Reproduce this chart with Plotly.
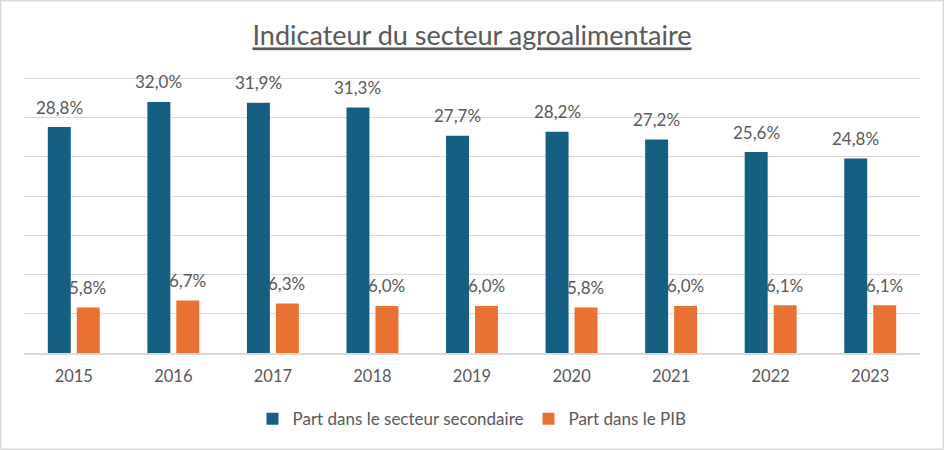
import plotly.graph_objects as go

years = ["2015", "2016", "2017", "2018", "2019", "2020", "2021", "2022", "2023"]
part_secondaire = [28.8, 32.0, 31.9, 31.3, 27.7, 28.2, 27.2, 25.6, 24.8]
part_pib = [5.8, 6.7, 6.3, 6.0, 6.0, 5.8, 6.0, 6.1, 6.1]
series_names = ["Part dans le secteur secondaire", "Part dans le PIB"]
title_text = "Indicateur du secteur agroalimentaire"

BLUE = "#156082"
ORANGE = "#E97132"
TXT = "#595959"
GRID = "#D9D9D9"
FONT = "Lato, Carlito, Calibri, sans-serif"

W, H = 944, 450
ML, MR, MT, MB = 24, 24, 76, 97
PW, PH = W - ML - MR, H - MT - MB

fig = go.Figure()
fig.add_trace(go.Bar(x=years, y=part_secondaire, name=series_names[0],
                     marker=dict(color=BLUE, line=dict(width=0))))
fig.add_trace(go.Bar(x=years, y=part_pib, name=series_names[1],
                     marker=dict(color=ORANGE, line=dict(width=0))))

def fmt(v):
    return f"{v:.1f}".replace(".", ",") + "%"

annotations = []
for i, v in enumerate(part_secondaire):
    annotations.append(dict(x=i, y=v, xref="x", yref="y", text=fmt(v), showarrow=False,
                            xshift=-14.5, yshift=20, yanchor="middle",
                            font=dict(family=FONT, size=17, color=TXT)))
for i, v in enumerate(part_pib):
    annotations.append(dict(x=i, y=v, xref="x", yref="y", text=fmt(v), showarrow=False,
                            xshift=14, yshift=20, yanchor="middle",
                            font=dict(family=FONT, size=17, color=TXT)))

fig.update_layout(
    width=W, height=H,
    margin=dict(l=ML, r=MR, t=MT, b=MB, pad=0),
    paper_bgcolor="white", plot_bgcolor="white",
    barmode="group", bargap=0.418, bargroupgap=0.207,
    font=dict(family=FONT, color=TXT, size=16),
    title=dict(text="<u>" + title_text + "</u>", x=0.5, xanchor="center",
               y=1 - 36 / H, yanchor="middle",
               font=dict(family=FONT, size=27, color=TXT)),
    xaxis=dict(type="category", range=[-0.5, len(years) - 0.5], showgrid=False,
               showline=True, linecolor=GRID, linewidth=1.5,
               ticks="", tickfont=dict(family=FONT, size=16.5, color=TXT),
               ticklabelstandoff=7),
    yaxis=dict(range=[0, 35.3], dtick=5, showgrid=True, gridcolor=GRID, gridwidth=1,
               showticklabels=False, zeroline=False, showline=False, ticks=""),
    legend=dict(orientation="h", x=0.5, xanchor="center", y=(352.7 - 419) / PH,
                yanchor="middle", font=dict(family=FONT, size=17, color=TXT),
                itemwidth=30),
    annotations=annotations,
    shapes=[dict(type="rect", xref="paper", yref="paper",
                 x0=(-ML + 0.75) / PW, x1=1 + (MR - 0.75) / PW,
                 y0=(-MB + 0.75) / PH, y1=1 + (MT - 0.75) / PH,
                 line=dict(color=GRID, width=1.5), fillcolor="rgba(0,0,0,0)", layer="below")],
)

fig.write_html("out.html", config={"displayModeBar": False},
               post_script="document.body.style.margin='0';document.body.style.overflow='hidden';")
